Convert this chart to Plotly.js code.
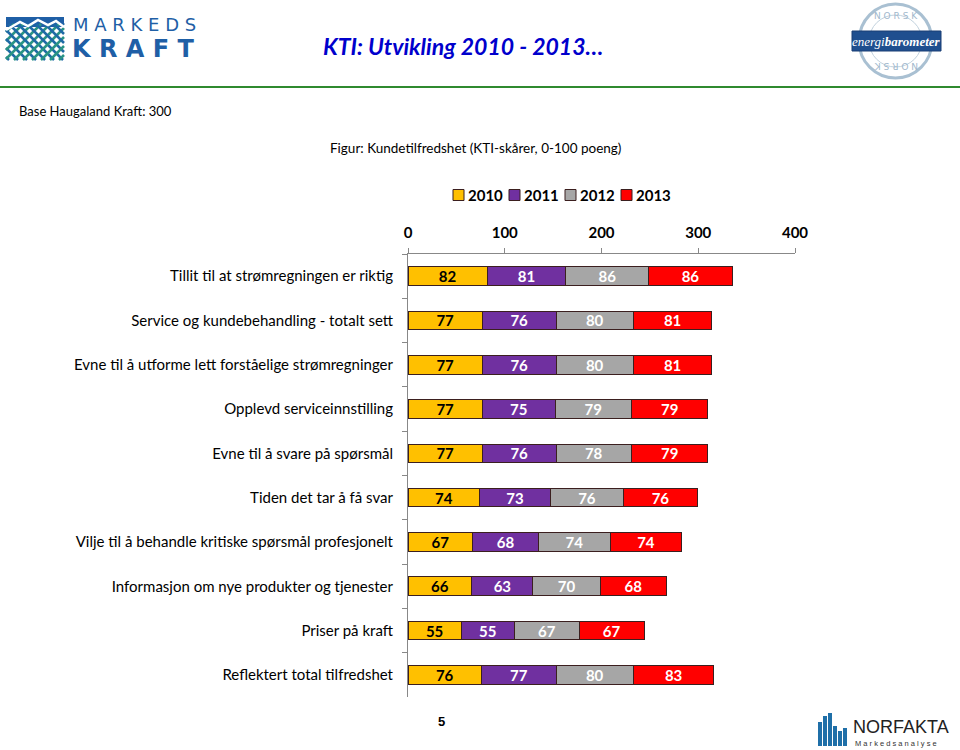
<!DOCTYPE html>
<html><head><meta charset="utf-8">
<script src="https://cdn.plot.ly/plotly-3.0.1.min.js"></script>
<style>html,body{margin:0;padding:0;background:#fff}#chart{width:960px;height:750px}</style>
</head><body><div id="chart"></div>
<script>
const categories = [
  "Tillit til at strømregningen er riktig",
  "Service og kundebehandling - totalt sett",
  "Evne til å utforme lett forståelige strømregninger",
  "Opplevd serviceinnstilling",
  "Evne til å svare på spørsmål",
  "Tiden det tar å få svar",
  "Vilje til å behandle kritiske spørsmål profesjonelt",
  "Informasjon om nye produkter og tjenester",
  "Priser på kraft",
  "Reflektert total tilfredshet"
];
const years = ["2010", "2011", "2012", "2013"];
const v2010 = [82, 77, 77, 77, 77, 74, 67, 66, 55, 76];
const v2011 = [81, 76, 76, 75, 76, 73, 68, 63, 55, 77];
const v2012 = [86, 80, 80, 79, 78, 76, 74, 70, 67, 80];
const v2013 = [86, 81, 81, 79, 79, 76, 74, 68, 67, 83];
const xTicks = [0, 100, 200, 300, 400];

const series = [v2010, v2011, v2012, v2013];
const colors = ["#FFC000", "#7030A0", "#A6A6A6", "#FF0000"];
const textColors = ["#000000", "#ffffff", "#ffffff", "#ffffff"];
const FONT = "Lato, 'Open Sans', sans-serif";

const traces = series.map((vals, i) => ({
  type: "bar", orientation: "h", name: years[i],
  y: categories, x: vals,
  text: vals.map(String), textposition: "inside", insidetextanchor: "middle",
  textangle: 0, constraintext: "none",
  textfont: {family: FONT, size: 15, color: textColors[i], weight: "bold"},
  marker: {color: colors[i], line: {color: "#3b1f1f", width: 1}},
  hoverinfo: "skip", showlegend: false
}));

function px(x){return (x - 408) / 387;}
function py(y){return (697 - y) / 443;}

const shapes = [];
const annotations = [];
// Legend (manual, compact like the reference)
const legX = [453, 509, 565, 621];
years.forEach((yr, i) => {
  shapes.push({type: "rect", xref: "paper", yref: "paper",
    x0: px(legX[i]), x1: px(legX[i] + 11), y0: py(200.5), y1: py(189.5),
    fillcolor: colors[i], line: {color: "#3b1f1f", width: 1}});
  annotations.push({xref: "paper", yref: "paper", x: px(legX[i] + 13), y: py(195),
    xanchor: "left", yanchor: "middle", showarrow: false,
    text: yr, font: {family: FONT, size: 15, color: "#000", weight: "bold"}});
});
// Green rule
shapes.push({type: "line", xref: "paper", yref: "paper", x0: px(0), x1: px(960),
  y0: py(87), y1: py(87), line: {color: "#2f8a2f", width: 2}});

// Markedskraft logo
shapes.push({type: "rect", xref: "paper", yref: "paper", x0: px(6), x1: px(64), y0: py(27), y1: py(17),
  fillcolor: "#1f5fa6", line: {width: 0}});
function clipLine(x0, y0, x1, y1, bx0, by0, bx1, by1) {
  // parametric clip (Liang-Barsky)
  let t0 = 0, t1 = 1; const dx = x1 - x0, dy = y1 - y0;
  const p = [-dx, dx, -dy, dy], q = [x0 - bx0, bx1 - x0, y0 - by0, by1 - y0];
  for (let i = 0; i < 4; i++) {
    if (p[i] === 0) { if (q[i] < 0) return null; continue; }
    const r = q[i] / p[i];
    if (p[i] < 0) { if (r > t1) return null; if (r > t0) t0 = r; }
    else { if (r < t0) return null; if (r < t1) t1 = r; }
  }
  return [x0 + t0 * dx, y0 + t0 * dy, x0 + t1 * dx, y0 + t1 * dy];
}
for (let c = -40; c <= 110; c += 9) {
  const a = clipLine(c, 60, c + 40, 20, 6, 24, 64, 60);
  if (a) shapes.push({type: "line", xref: "paper", yref: "paper", x0: px(a[0]), y0: py(a[1]), x1: px(a[2]), y1: py(a[3]),
    line: {color: "#2a9484", width: 2.5}});
  const b = clipLine(c, 20, c + 40, 60, 6, 24, 64, 60);
  if (b) shapes.push({type: "line", xref: "paper", yref: "paper", x0: px(b[0]), y0: py(b[1]), x1: px(b[2]), y1: py(b[3]),
    line: {color: "#1f6aa6", width: 2.5}});
}
// white mountain peaks cut into band
shapes.push({type: "path", xref: "paper", yref: "paper",
  path: `M ${px(6)} ${py(30)} L ${px(20)} ${py(22)} L ${px(28)} ${py(26)} L ${px(38)} ${py(20)} L ${px(48)} ${py(25)} L ${px(56)} ${py(21)} L ${px(64)} ${py(27)}`,
  line: {color: "#ffffff", width: 2.5}});
annotations.push({xref: "paper", yref: "paper", x: px(71), y: py(25), xanchor: "left", yanchor: "middle",
  showarrow: false, text: "M A R K E D S", font: {family: "DejaVu Sans", size: 18, color: "#1f5fa6"}});
annotations.push({xref: "paper", yref: "paper", x: px(70), y: py(49), xanchor: "left", yanchor: "middle",
  showarrow: false, text: "<b>K R A F T</b>", font: {family: "DejaVu Sans", size: 24, color: "#1f5fa6"}});

// Title
annotations.push({xref: "paper", yref: "paper", x: px(321), y: py(46), xanchor: "left", yanchor: "middle",
  showarrow: false, text: "<b><i>KTI: Utvikling 2010 - 2013…</i></b>",
  font: {family: FONT, size: 23, color: "#0000CC"}});

// Energibarometer logo
shapes.push({type: "circle", xref: "paper", yref: "paper",
  x0: px(859), x1: px(932), y0: py(78), y1: py(4), line: {color: "#a9c0d2", width: 3}});
shapes.push({type: "circle", xref: "paper", yref: "paper",
  x0: px(869), x1: px(922), y0: py(67), y1: py(15), line: {color: "#c2d2de", width: 1}});
shapes.push({type: "rect", xref: "paper", yref: "paper",
  x0: px(852), x1: px(941), y0: py(51), y1: py(31), fillcolor: "#1f4f8f", line: {color: "#1a3f75", width: 1}});
annotations.push({xref: "paper", yref: "paper", x: px(896), y: py(41), xanchor: "center", yanchor: "middle",
  showarrow: false, text: "<i>energi<b>barometer</b></i>", font: {family: "Liberation Serif", size: 13, color: "#fff"}});
annotations.push({xref: "paper", yref: "paper", x: px(896), y: py(16), xanchor: "center", yanchor: "middle",
  showarrow: false, text: "N O R S K", font: {family: "DejaVu Sans", size: 9, color: "#9fb8cc"}});
annotations.push({xref: "paper", yref: "paper", x: px(896), y: py(66), xanchor: "center", yanchor: "middle",
  showarrow: false, text: "N O R S K", textangle: 180, font: {family: "DejaVu Sans", size: 9, color: "#9fb8cc"}});

// Texts
annotations.push({xref: "paper", yref: "paper", x: px(17), y: py(111), xanchor: "left", yanchor: "middle",
  showarrow: false, text: "Base Haugaland Kraft: 300", font: {family: FONT, size: 13, color: "#000"}});
annotations.push({xref: "paper", yref: "paper", x: px(475), y: py(148), xanchor: "center", yanchor: "middle",
  showarrow: false, text: "Figur: Kundetilfredshet (KTI-skårer, 0-100 poeng)", font: {family: FONT, size: 13.5, color: "#000"}});
annotations.push({xref: "paper", yref: "paper", x: px(441), y: py(721), xanchor: "center", yanchor: "middle",
  showarrow: false, text: "<b>5</b>", font: {family: "Liberation Sans", size: 13, color: "#000"}});

// Norfakta logo
const nb = [[818, 722], [823, 716], [828, 713], [833, 726], [838, 731], [843, 728]];
nb.forEach(b => shapes.push({type: "rect", xref: "paper", yref: "paper",
  x0: px(b[0]), x1: px(b[0] + 4), y0: py(746), y1: py(b[1]), fillcolor: "#1f6fa8", line: {width: 0}}));
annotations.push({xref: "paper", yref: "paper", x: px(851), y: py(727), xanchor: "left", yanchor: "middle",
  showarrow: false, text: "NORFAKTA", font: {family: "Liberation Sans", size: 18, color: "#222"}});
annotations.push({xref: "paper", yref: "paper", x: px(853), y: py(743), xanchor: "left", yanchor: "middle",
  showarrow: false, text: "M a r k e d s a n a l y s e", font: {family: "Liberation Sans", size: 7.5, color: "#333"}});

const layout = {
  width: 960, height: 750,
  margin: {l: 408, r: 165, t: 254, b: 53, pad: 0},
  paper_bgcolor: "#fff", plot_bgcolor: "#fff",
  barmode: "stack", bargap: 0.58,
  showlegend: false,
  font: {family: FONT, size: 14, color: "#000"},
  xaxis: {side: "top", range: [0, 400], tickvals: xTicks, ticktext: xTicks.map(String),
    showgrid: false, zeroline: false, showline: true, linecolor: "#888", linewidth: 1,
    ticks: "outside", ticklen: 5, tickcolor: "#888", ticklabelstandoff: 4,
    tickfont: {family: FONT, size: 15, color: "#000", weight: "bold"}, fixedrange: true},
  yaxis: {type: "category", autorange: "reversed", showgrid: false, zeroline: false,
    showline: true, linecolor: "#888", linewidth: 1, ticks: "outside", ticklen: 5,
    tickcolor: "#888", tickson: "boundaries", ticklabelstandoff: 11,
    tickfont: {family: FONT, size: 15, color: "#000"}, fixedrange: true},
  shapes: shapes, annotations: annotations
};
Plotly.newPlot("chart", traces, layout, {displayModeBar: false, staticPlot: true});
</script></body></html>
